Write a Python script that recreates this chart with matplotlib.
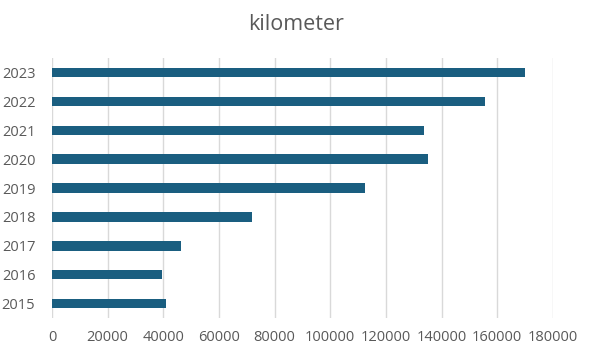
import matplotlib
matplotlib.use('Agg')
import matplotlib.pyplot as plt

years = ['2015', '2016', '2017', '2018', '2019', '2020', '2021', '2022', '2023']
km = [41000, 39700, 46400, 72000, 112400, 135100, 133500, 155500, 169900]

plt.rcParams['font.family'] = ['Open Sans', 'DejaVu Sans']

fig = plt.figure(figsize=(5.92, 3.52), dpi=100)
ax = fig.add_axes([0.0878, 0.0966, 0.8462, 0.7384])

ax.barh(years, km, height=0.33, color='#1a5e80', zorder=3)
ax.set_xlim(0, 180000)
ax.set_ylim(-0.5, len(years) - 0.5)
ax.set_xticks(range(0, 180001, 20000))
ax.grid(axis='x', color='#d9d9d9', linewidth=1, zorder=0)
for s in ax.spines.values():
    s.set_visible(False)
ax.tick_params(length=0, colors='#595959', labelsize=10.5)
ax.tick_params(axis='x', pad=9)
ax.tick_params(axis='y', pad=12)
fig.suptitle('kilometer', y=0.96, fontsize=15.5, color='#595959')

fig.savefig('out.png')
